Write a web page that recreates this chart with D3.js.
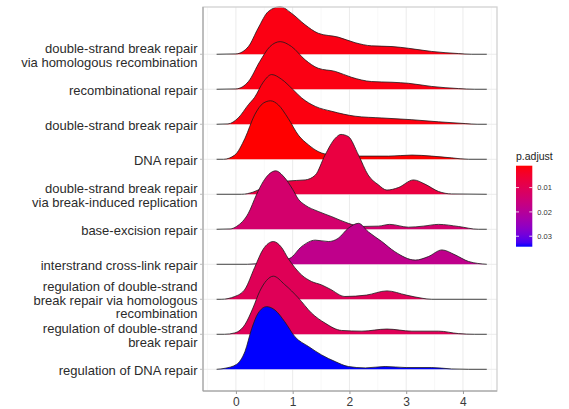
<!DOCTYPE html>
<html>
<head>
<meta charset="utf-8">
<script src="https://cdn.jsdelivr.net/npm/d3@7"></script>
<style>
  body { margin: 0; background: #fff; }
  text { font-family: "Liberation Sans", Arial, sans-serif; }
</style>
</head>
<body>
<div id="chart"></div>
<script>
// GO terms, bottom row first
const terms = [
    "regulation of DNA repair",
    "regulation of double-strand\nbreak repair",
    "regulation of double-strand\nbreak repair via homologous\nrecombination",
    "interstrand cross-link repair",
    "base-excision repair",
    "double-strand break repair\nvia break-induced replication",
    "DNA repair",
    "double-strand break repair",
    "recombinational repair",
    "double-strand break repair\nvia homologous recombination"
];
const pAdjust = [0.0343, 0.0105, 0.0103, 0.0180, 0.0135, 0.0073, 0.0010, 0.0019, 0.0021, 0.0021];

// ridge heights (in row units)
const regDnaX = [-0.34, -0.19, 0.01, 0.16, 0.28, 0.39, 0.54, 0.69, 0.86, 1.04, 1.28, 1.51, 1.75, 1.98, 2.28, 2.63, 3.0, 3.45, 3.8, 4.1, 4.42];
const regDnaD = [0, 0.03, 0.14, 0.51, 1.17, 1.6, 1.79, 1.69, 1.36, 0.93, 0.65, 0.41, 0.22, 0.08, 0.04, 0.08, 0.05, 0.05, 0.01, 0, 0];

const regDsbX = [-0.34, -0.2, -0.02, 0.16, 0.3, 0.42, 0.54, 0.66, 0.86, 1.1, 1.33, 1.57, 1.86, 2.22, 2.66, 3.1, 3.57, 3.92, 4.2, 4.42];
const regDsbD = [0, 0, 0.04, 0.28, 0.75, 1.23, 1.54, 1.66, 1.42, 1.04, 0.61, 0.32, 0.11, 0.09, 0.15, 0.09, 0.09, 0.02, 0, 0];

const regDsbHrX = [-0.34, -0.26, -0.02, 0.16, 0.33, 0.48, 0.66, 0.8, 0.92, 1.16, 1.33, 1.51, 1.66, 1.92, 2.3, 2.66, 3.0, 3.28, 3.45, 4.42];
const regDsbHrD = [0, 0, 0.08, 0.29, 0.91, 1.43, 1.65, 1.49, 1.17, 0.69, 0.51, 0.41, 0.29, 0.08, 0.12, 0.24, 0.12, 0.03, 0, 0];

const crossLinkX = [-0.34, 0.2, 0.5, 0.75, 0.95, 1.16, 1.4, 1.63, 1.8, 1.98, 2.16, 2.33, 2.57, 2.8, 3.16, 3.39, 3.63, 3.86, 4.1, 4.42];
const crossLinkD = [0, 0, 0.04, 0.1, 0.17, 0.51, 0.69, 0.65, 0.74, 1.03, 1.17, 0.93, 0.65, 0.36, 0.12, 0.22, 0.41, 0.27, 0.08, 0];

const baseExX = [-0.34, -0.1, 0.01, 0.22, 0.36, 0.48, 0.58, 0.7, 0.85, 1.0, 1.1, 1.22, 1.45, 1.69, 1.98, 2.21, 2.51, 2.71, 3.04, 3.3, 3.57, 3.92, 4.27, 4.42];
const baseExD = [0, 0.01, 0.08, 0.46, 0.98, 1.36, 1.57, 1.67, 1.49, 1.14, 0.86, 0.69, 0.51, 0.36, 0.17, 0.08, 0.09, 0.14, 0.06, 0.09, 0.14, 0.08, 0, 0];

const dsbBirX = [-0.34, 0.1, 0.3, 0.5, 0.7, 0.92, 1.22, 1.4, 1.57, 1.75, 1.85, 1.98, 2.16, 2.33, 2.51, 2.66, 2.86, 3.13, 3.33, 3.57, 3.8, 4.42];
const dsbBirD = [0, 0, 0.06, 0.2, 0.31, 0.38, 0.41, 0.55, 1.12, 1.6, 1.71, 1.65, 1.12, 0.55, 0.27, 0.12, 0.19, 0.41, 0.29, 0.08, 0.01, 0];

const dnaRepX = [-0.34, -0.22, -0.02, 0.16, 0.33, 0.48, 0.61, 0.75, 0.92, 1.1, 1.28, 1.45, 1.69, 2.1, 2.69, 3.1, 3.45, 3.8, 4.1, 4.42];
const dnaRepD = [0, 0, 0.12, 0.6, 1.27, 1.6, 1.67, 1.55, 1.17, 0.69, 0.41, 0.22, 0.12, 0.09, 0.09, 0.12, 0.09, 0.04, 0, 0];

const dsbX = [-0.34, -0.14, 0.04, 0.22, 0.33, 0.48, 0.63, 0.8, 1.0, 1.16, 1.4, 1.69, 2.1, 2.57, 3.1, 3.57, 4.04, 4.25, 4.42];
const dsbD = [0, 0.01, 0.18, 0.56, 0.77, 1.2, 1.42, 1.29, 1.0, 0.75, 0.51, 0.37, 0.23, 0.18, 0.13, 0.07, 0.02, 0, 0];

const recombX = [-0.34, 0.0, 0.22, 0.42, 0.6, 0.78, 0.98, 1.22, 1.45, 1.75, 2.04, 2.39, 2.75, 3.04, 3.45, 3.92, 4.2, 4.42];
const recombD = [0, 0.01, 0.22, 0.79, 1.22, 1.36, 1.22, 0.84, 0.6, 0.51, 0.34, 0.22, 0.2, 0.17, 0.08, 0.02, 0, 0];

const dsbHrX = [-0.34, 0.0, 0.22, 0.39, 0.57, 0.78, 0.98, 1.22, 1.45, 1.8, 2.1, 2.39, 2.75, 3.04, 3.45, 3.92, 4.15, 4.42];
const dsbHrD = [0, 0.01, 0.22, 0.74, 1.22, 1.36, 1.17, 0.84, 0.6, 0.49, 0.33, 0.24, 0.22, 0.17, 0.08, 0.02, 0, 0];

const xTicks = [0, 1, 2, 3, 4];
const legendTicks = [0.01, 0.02, 0.03];

const ridgeX = [regDnaX, regDsbX, regDsbHrX, crossLinkX, baseExX, dsbBirX, dnaRepX, dsbX, recombX, dsbHrX];
const ridgeD = [regDnaD, regDsbD, regDsbHrD, crossLinkD, baseExD, dsbBirD, dnaRepD, dsbD, recombD, dsbHrD];

const W = 569, H = 409;
const panel = { left: 203, right: 497, top: 7, bottom: 391 };

const svg = d3.select("#chart")
    .append("svg")
    .attr("width", W)
    .attr("height", H);

const x = d3.scaleLinear()
    .domain([-0.58, 4.6])
    .range([panel.left, panel.right]);

// row i sits at value i + 1, ridge heights add on top of it
const y = d3.scaleLinear()
    .domain([0.38, 11.35])
    .range([panel.bottom, panel.top]);

const color = d3.scaleLinear()
    .domain(d3.extent(pAdjust))
    .range(["red", "blue"])
    .interpolate(d3.interpolateLab);

/* grid */
const grid = svg.append("g").attr("class", "grid");
d3.range(-0.5, 4.6, 0.5).forEach(v => {
    const major = Math.abs(v - Math.round(v)) < 1e-9;
    grid.append("line")
        .attr("x1", x(v)).attr("x2", x(v))
        .attr("y1", panel.top).attr("y2", panel.bottom)
        .attr("stroke", major ? "#ebebeb" : "#f4f4f4")
        .attr("stroke-width", major ? 1 : 0.6);
});
terms.forEach((t, i) => {
    grid.append("line")
        .attr("x1", panel.left).attr("x2", panel.right)
        .attr("y1", y(i + 1)).attr("y2", y(i + 1))
        .attr("stroke", "#ebebeb");
});

/* ridges, top row first so lower rows overlap */
const content = svg.append("g").attr("class", "content");
for (let i = terms.length - 1; i >= 0; i--) {
    const pts = ridgeX[i].map((v, j) => [v, ridgeD[i][j]]);
    const area = d3.area()
        .x(d => x(d[0]))
        .y0(y(i + 1))
        .y1(d => y(i + 1 + d[1]))
        .curve(d3.curveMonotoneX);
    const line = d3.line()
        .x(d => x(d[0]))
        .y(d => y(i + 1 + d[1]))
        .curve(d3.curveMonotoneX);
    content.append("path")
        .attr("d", area(pts))
        .attr("fill", color(pAdjust[i]));
    content.append("path")
        .attr("d", line(pts))
        .attr("fill", "none")
        .attr("stroke", "#1a1a1a")
        .attr("stroke-width", 0.8);
}

/* panel border + axis lines */
svg.append("rect")
    .attr("x", panel.left).attr("y", panel.top)
    .attr("width", panel.right - panel.left)
    .attr("height", panel.bottom - panel.top)
    .attr("fill", "none")
    .attr("stroke", "#d2d2d2")
    .attr("stroke-width", 1.3);
svg.append("line")
    .attr("x1", panel.left).attr("x2", panel.left)
    .attr("y1", panel.top).attr("y2", panel.bottom)
    .attr("stroke", "#9a9a9a");
svg.append("line")
    .attr("x1", panel.left).attr("x2", panel.right)
    .attr("y1", panel.bottom).attr("y2", panel.bottom)
    .attr("stroke", "#9a9a9a");

/* x axis */
const axisX = d3.axisBottom(x)
    .tickValues(xTicks)
    .tickFormat(d3.format("d"))
    .tickSize(3)
    .tickPadding(3);
const gx = svg.append("g")
    .attr("transform", `translate(0, ${panel.bottom})`)
    .call(axisX);
gx.select(".domain").remove();
gx.selectAll(".tick line").attr("stroke", "#9a9a9a");
gx.selectAll(".tick text")
    .attr("font-size", 12)
    .attr("fill", "#3a3a3a");

/* y labels */
const gy = svg.append("g").attr("class", "axis_y");
const lh = 13.7;
terms.forEach((t, i) => {
    const yy = y(i + 1);
    gy.append("line")
        .attr("x1", panel.left - 3).attr("x2", panel.left)
        .attr("y1", yy).attr("y2", yy)
        .attr("stroke", "#bbb");
    const lines = t.split("\n");
    const txt = gy.append("text")
        .attr("text-anchor", "end")
        .attr("font-size", 13)
        .attr("fill", "#2b2b2b");
    lines.forEach((s, k) => {
        txt.append("tspan")
            .attr("x", panel.left - 5.5)
            .attr("y", yy + 5.5 + (k - (lines.length - 1) / 2) * lh)
            .text(s);
    });
});

/* legend */
const lg = svg.append("g").attr("class", "legend");
const bar = { x: 516, w: 16.3, top: 165.7, bottom: 246.7 };
const ly = d3.scaleLinear()
    .domain(d3.extent(pAdjust))
    .range([bar.top, bar.bottom]);

const grad = svg.append("defs").append("linearGradient")
    .attr("id", "pgrad")
    .attr("x1", 0).attr("x2", 0).attr("y1", 0).attr("y2", 1);
d3.range(0, 1.0001, 0.05).forEach(f => {
    const p = ly.domain()[0] + f * (ly.domain()[1] - ly.domain()[0]);
    grad.append("stop").attr("offset", f).attr("stop-color", color(p));
});

lg.append("text")
    .attr("x", bar.x)
    .attr("y", 159.5)
    .attr("font-size", 10.5)
    .attr("fill", "#222")
    .text("p.adjust");
lg.append("rect")
    .attr("x", bar.x).attr("y", bar.top)
    .attr("width", bar.w).attr("height", bar.bottom - bar.top)
    .attr("fill", "url(#pgrad)");
legendTicks.forEach(v => {
    lg.append("line")
        .attr("x1", bar.x).attr("x2", bar.x + 3)
        .attr("y1", ly(v)).attr("y2", ly(v))
        .attr("stroke", "#fff").attr("stroke-opacity", 0.8);
    lg.append("line")
        .attr("x1", bar.x + bar.w - 3).attr("x2", bar.x + bar.w)
        .attr("y1", ly(v)).attr("y2", ly(v))
        .attr("stroke", "#fff").attr("stroke-opacity", 0.8);
    lg.append("text")
        .attr("x", bar.x + bar.w + 5)
        .attr("y", ly(v) + 2.6)
        .attr("font-size", 7.5)
        .attr("fill", "#333")
        .text(v.toFixed(2));
});
</script>
</body>
</html>
